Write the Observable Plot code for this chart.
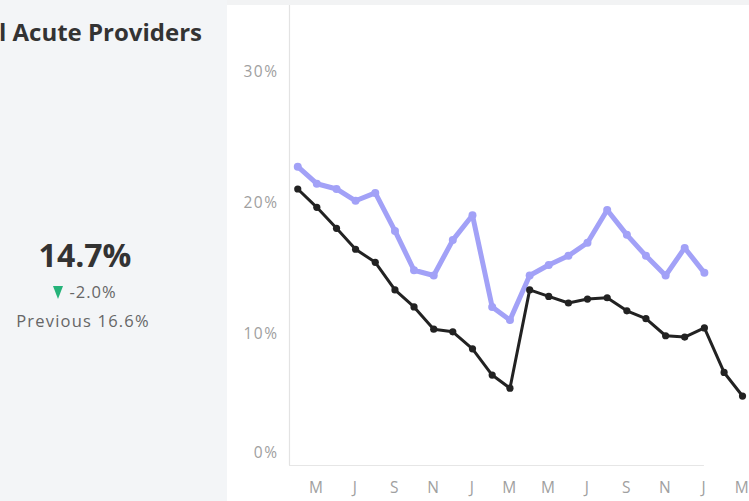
<!DOCTYPE html>
<html>
<head>
<meta charset="utf-8">
<script src="https://cdn.jsdelivr.net/npm/d3@7"></script>
<script src="https://cdn.jsdelivr.net/npm/@observablehq/plot@0.6"></script>
<style>
  html, body { margin: 0; padding: 0; }
  body { width: 749px; height: 501px; overflow: hidden; position: relative; background: #ffffff; font-family: "Open Sans", sans-serif; }
  #panel { position: absolute; left: 0; top: 0; width: 227px; height: 501px; background: #f3f5f7; }
  #topstrip { position: absolute; left: 227px; top: 0; width: 522px; height: 5px; background: #f2f3f4; }
  #title { position: absolute; right: 547px; top: 15px; white-space: nowrap; font-weight: 700; font-size: 24px; color: #333; }
  #kpi { position: absolute; left: 0; width: 170px; top: 235px; text-align: center; font-weight: 700; font-size: 32px; color: #333; line-height: 40px; }
  #delta { position: absolute; left: 0; width: 170px; top: 280px; text-align: center; font-size: 16.5px; color: #666; letter-spacing: 1px; }
  #delta .tri { display: inline-block; width: 0; height: 0; border-left: 5.5px solid transparent; border-right: 5.5px solid transparent; border-top: 13px solid #25b37a; margin-right: 6px; vertical-align: -1px; }
  #prev { position: absolute; left: 0; width: 166px; top: 309px; text-align: center; font-size: 16.5px; color: #666; letter-spacing: 1.2px; }
  #chart { position: absolute; left: 0; top: 0; }
  #chart text { letter-spacing: 1.5px; }
</style>
</head>
<body>
<div id="panel"></div>
<div id="topstrip"></div>
<div id="title">l Acute Providers</div>
<div id="kpi"></div>
<div id="delta"></div>
<div id="prev"></div>
<div id="chart"></div>
<script>
// ---- data ----
const months = ["2022-04","2022-05","2022-06","2022-07","2022-08","2022-09","2022-10","2022-11","2022-12",
  "2023-01","2023-02","2023-03","2023-04","2023-05","2023-06","2023-07","2023-08","2023-09","2023-10",
  "2023-11","2023-12","2024-01","2024-02","2024-03"];
const blackValues = [21.1, 19.7, 18.1, 16.5, 15.5, 13.4, 12.1, 10.4, 10.2, 8.9, 6.9, 5.9,
  13.4, 12.9, 12.4, 12.7, 12.8, 11.8, 11.2, 9.9, 9.8, 10.5, 7.1, 5.3];
const purpleValues = [22.8, 21.5, 21.1, 20.2, 20.8, 17.9, 14.9, 14.5, 17.2, 19.1, 12.1, 11.1,
  14.5, 15.3, 16.0, 17.0, 19.5, 17.6, 16.0, 14.5, 16.6, 14.7];
const yTicks = [10, 20, 30];
const yBottomTick = [0];
const monthInitials = ["J","F","M","A","M","J","J","A","S","O","N","D"];
const kpiCurrent = 14.7;
const kpiPrevious = 16.6;
const kpiDelta = -2.0;

// ---- KPI text ----
document.getElementById("kpi").textContent = kpiCurrent.toFixed(1) + "%";
document.getElementById("delta").innerHTML = '<span class="tri"></span>' + kpiDelta.toFixed(1) + "%";
document.getElementById("prev").textContent = "Previous " + kpiPrevious.toFixed(1) + "%";

// ---- chart ----
const parse = d3.utcParse("%Y-%m");
const black = months.map((m, i) => ({date: parse(m), value: blackValues[i]}));
const purple = purpleValues.map((v, i) => ({date: parse(months[i]), value: v}));
const xDomain = [d3.utcDay.offset(black[0].date, -13), d3.utcDay.offset(black[black.length - 1].date, 11)];

const chart = Plot.plot({
  width: 749,
  height: 501,
  marginLeft: 289,
  marginRight: 0,
  marginTop: 5,
  marginBottom: 36,
  style: {background: "transparent", fontFamily: "Open Sans, sans-serif"},
  x: {type: "utc", domain: xDomain},
  y: {domain: [0, 35.1]},
  marks: [
    Plot.ruleX([xDomain[0]], {stroke: "#e3e3e3", strokeWidth: 1.2}),
    Plot.ruleY([0], {x1: xDomain[0], x2: purple[purple.length - 1].date, stroke: "#e6e6e6", strokeWidth: 1.2}),
    Plot.axisY(yTicks, {tickSize: 0, tickPadding: 11, tickFormat: d => d + "%", fontSize: 15.5, color: "#a0a0a0", label: null}),
    Plot.axisY(yBottomTick, {tickSize: 0, tickPadding: 11, tickFormat: d => d + "%", fontSize: 15.5, color: "#a0a0a0", label: null, dy: -12}),
    Plot.axisX({ticks: d3.utcMonth.every(2), tickSize: 0, tickPadding: 16, tickFormat: d => monthInitials[d.getUTCMonth()], fontSize: 15.5, color: "#a0a0a0", label: null}),
    Plot.line(purple, {x: "date", y: "value", stroke: "#a2a1f7", strokeWidth: 5}),
    Plot.dot(purple, {x: "date", y: "value", r: 4, fill: "#a2a1f7"}),
    Plot.line(black, {x: "date", y: "value", stroke: "#222222", strokeWidth: 3}),
    Plot.dot(black, {x: "date", y: "value", r: 3.6, fill: "#222222"})
  ]
});
document.getElementById("chart").append(chart);
</script>
</body>
</html>
